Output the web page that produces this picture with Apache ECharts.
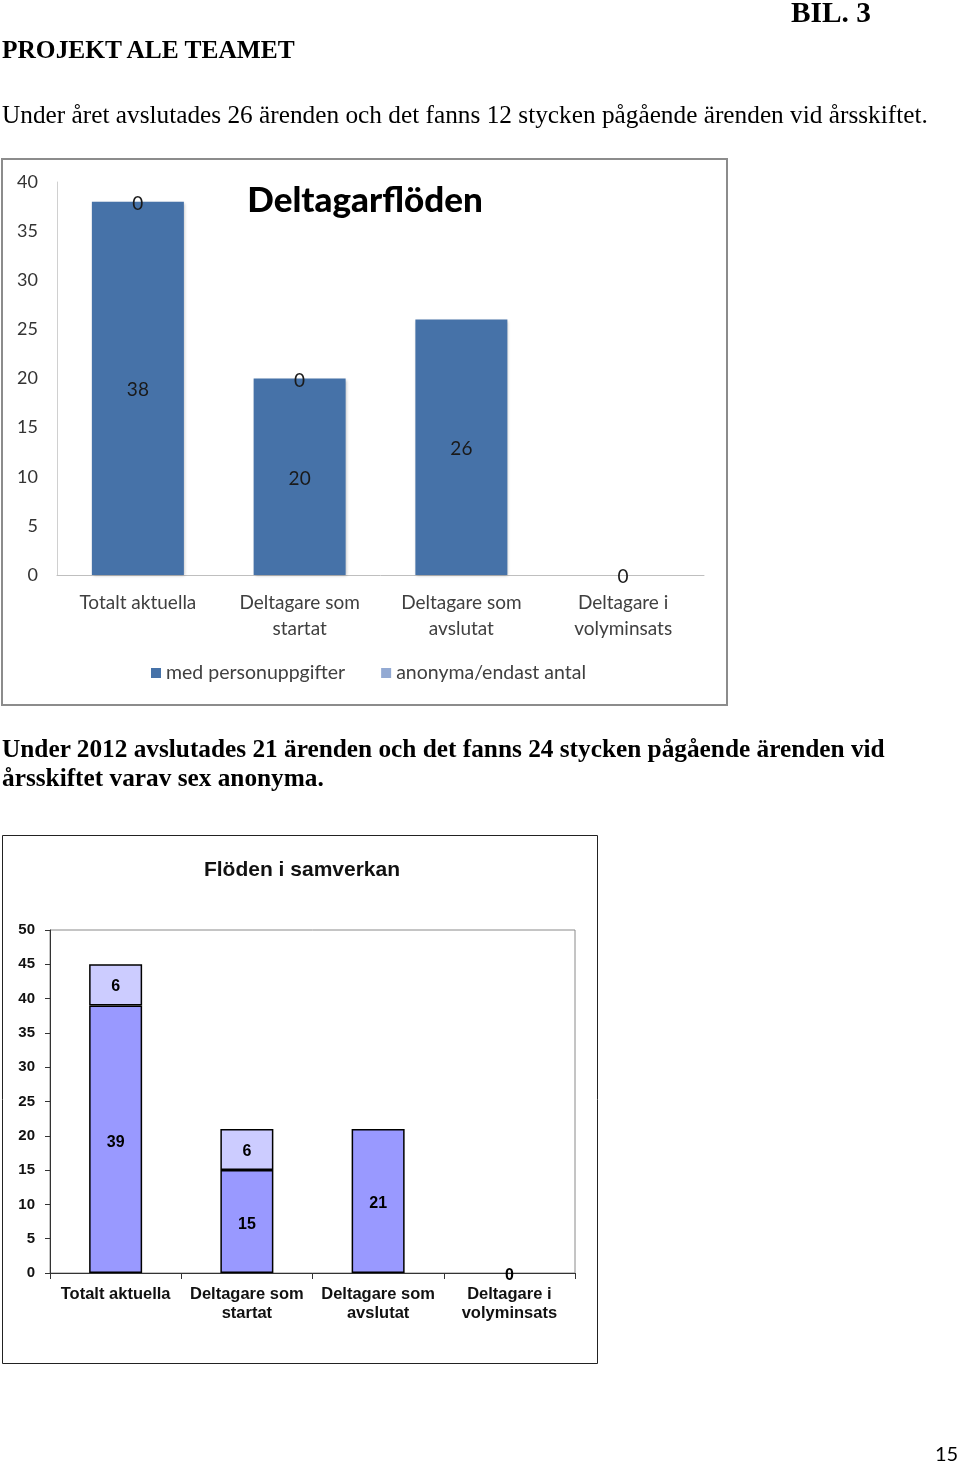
<!DOCTYPE html>
<html>
<head>
<meta charset="utf-8">
<script src="https://cdn.jsdelivr.net/npm/echarts@6/dist/echarts.min.js"></script>
<style>
html,body{margin:0;padding:0;background:#fff;width:960px;height:1464px;overflow:hidden;}
#chart{position:absolute;left:0;top:0;width:960px;height:1464px;}
.t{position:absolute;white-space:nowrap;line-height:1;color:#000;font-family:"Liberation Serif","Times New Roman",serif;}
</style>
</head>
<body>
<div id="chart"></div>
<div class="t" data-x="791" data-cy="13" data-w="80" data-fs="29" style="font-weight:bold">BIL. 3</div>
<div class="t" data-x="2" data-cy="50" data-w="293" data-fs="25" style="font-weight:bold">PROJEKT ALE TEAMET</div>
<div class="t" data-x="2" data-cy="115" data-w="926" data-fs="22">Under året avslutades 26 ärenden och det fanns 12 stycken pågående ärenden vid årsskiftet.</div>
<div class="t" data-x="2" data-cy="749" data-w="883" data-fs="23" style="font-weight:bold">Under 2012 avslutades 21 ärenden och det fanns 24 stycken pågående ärenden vid</div>
<div class="t" data-x="2" data-cy="778" data-fs="23" data-ref="1" style="font-weight:bold">årsskiftet varav sex anonyma.</div>
<div class="t" data-x="935" data-cy="1453" data-fs="20" style="font-family:Lato,sans-serif">15</div>
<script>
// ---- data ----
const categories = ['Totalt aktuella', 'Deltagare som\nstartat', 'Deltagare som\navslutat', 'Deltagare i\nvolyminsats'];
const medPerson2011 = [38, 20, 26, 0];
const anonyma2011 = [0, 0, null, null];
const bas2012 = [39, 15, 21, 0];
const anonyma2012 = [6, 6, null, null];
const seriesNames = ['med personuppgifter', 'anonyma/endast antal'];

// ---- text fitting ----
(function(){
  const els = document.querySelectorAll('.t');
  let boldScale = null;
  els.forEach(el => {
    let fs = parseFloat(el.dataset.fs);
    el.style.fontSize = fs + 'px';
    if (el.dataset.w) {
      const w = el.getBoundingClientRect().width;
      fs = fs * parseFloat(el.dataset.w) / w;
      el.style.fontSize = fs + 'px';
      if (el.dataset.cy === '749') boldScale = fs;
    }
    if (el.dataset.ref && boldScale) { fs = boldScale; el.style.fontSize = fs + 'px'; }
    el.style.left = el.dataset.x + 'px';
    el.style.top = (parseFloat(el.dataset.cy) - fs / 2) + 'px';
  });
})();

// zero-height bars in the 2012 chart carry no outline
const outlined = arr => arr.map(v => (v === 0 ? {value: v, itemStyle: {borderWidth: 0}} : v));

// ---- chart ----
const chart = echarts.init(document.getElementById('chart'), null, {renderer: 'canvas'});
const calibri = 'Lato, "Open Sans", sans-serif';
const arial = '"Liberation Sans", Arial, sans-serif';
const option = {
  animation: false,
  backgroundColor: '#fff',
  title: [
    {text: 'Deltagarflöden', left: 365, top: 183, textAlign: 'center', padding: 0,
     textStyle: {fontFamily: calibri, fontWeight: 900, fontSize: 35, color: '#000'}},
    {text: 'Flöden i samverkan', left: 302, top: 860, textAlign: 'center', padding: 0,
     textStyle: {fontFamily: arial, fontWeight: 'bold', fontSize: 21, color: '#111'}}
  ],
  legend: {
    data: seriesNames, left: 146, top: 658, icon: 'rect', itemWidth: 10, itemHeight: 10, itemGap: 36, itemTextGap: 6,
    textStyle: {fontFamily: calibri, fontSize: 19.5, color: '#404040'}
  },
  graphic: [
    {type: 'rect', silent: true, z: 0, shape: {x: 2, y: 159, width: 725, height: 546},
     style: {fill: 'none', stroke: '#8c8c8c', lineWidth: 2}},
    {type: 'rect', silent: true, z: 0, shape: {x: 2.5, y: 835.5, width: 595, height: 528},
     style: {fill: 'none', stroke: '#222', lineWidth: 1}}
  ],
  grid: [
    {left: 57, top: 182, width: 647, height: 393},
    {left: 50, top: 930, width: 525, height: 343, show: true, borderColor: '#8a8a8a', borderWidth: 1}
  ],
  xAxis: [
    {gridIndex: 0, type: 'category', data: categories,
     axisLine: {lineStyle: {color: '#bfbfbf'}}, axisTick: {show: false},
     axisLabel: {interval: 0, fontFamily: calibri, fontSize: 19, color: '#404040', lineHeight: 26, margin: 15}},
    {gridIndex: 1, type: 'category', data: categories,
     axisLine: {lineStyle: {color: '#333', width: 1}}, axisTick: {show: true, length: 6, lineStyle: {color: '#333'}},
     axisLabel: {interval: 0, fontFamily: arial, fontWeight: 'bold', fontSize: 16.5, color: '#111', lineHeight: 19, margin: 12}}
  ],
  yAxis: [
    {gridIndex: 0, type: 'value', min: 0, max: 40, interval: 5, splitLine: {show: false},
     axisLine: {show: true, lineStyle: {color: '#d0d0d0'}}, axisTick: {show: false},
     axisLabel: {fontFamily: calibri, fontSize: 18, color: '#333', margin: 19}},
    {gridIndex: 1, type: 'value', min: 0, max: 50, interval: 5, splitLine: {show: false},
     axisLine: {show: true, lineStyle: {color: '#333'}}, axisTick: {show: true, length: 5, lineStyle: {color: '#333'}},
     axisLabel: {fontFamily: arial, fontWeight: 'bold', fontSize: 15, color: '#111', margin: 15}}
  ],
  series: [
    {name: seriesNames[0], type: 'bar', xAxisIndex: 0, yAxisIndex: 0, stack: 'a', barWidth: 92, data: medPerson2011,
     itemStyle: {color: '#4672A8', shadowColor: 'rgba(0,0,0,0.25)', shadowBlur: 3, shadowOffsetX: 1, shadowOffsetY: 1},
     label: {show: true, position: 'inside', offset: [0, 2], fontFamily: calibri, fontSize: 19, color: '#1a1a1a'}},
    {name: seriesNames[1], type: 'bar', xAxisIndex: 0, yAxisIndex: 0, stack: 'a', barWidth: 92, data: anonyma2011,
     itemStyle: {color: '#93AAD3'},
     label: {show: true, position: 'inside', offset: [0, 2], fontFamily: calibri, fontSize: 19, color: '#1a1a1a'}},
    {name: 'bas 2012', type: 'bar', xAxisIndex: 1, yAxisIndex: 1, stack: 'b', barWidth: 53, data: outlined(bas2012),
     itemStyle: {color: '#9999FF', borderColor: '#000', borderWidth: 1.5},
     label: {show: true, position: 'inside', offset: [0, 3], fontFamily: arial, fontWeight: 'bold', fontSize: 16, color: '#000'}},
    {name: 'anonyma 2012', type: 'bar', xAxisIndex: 1, yAxisIndex: 1, stack: 'b', barWidth: 53, data: anonyma2012,
     itemStyle: {color: '#CCCCFF', borderColor: '#000', borderWidth: 1.5},
     label: {show: true, position: 'inside', offset: [0, 2], fontFamily: arial, fontWeight: 'bold', fontSize: 16, color: '#000'}}
  ]
};
chart.setOption(option);
</script>
</body>
</html>
